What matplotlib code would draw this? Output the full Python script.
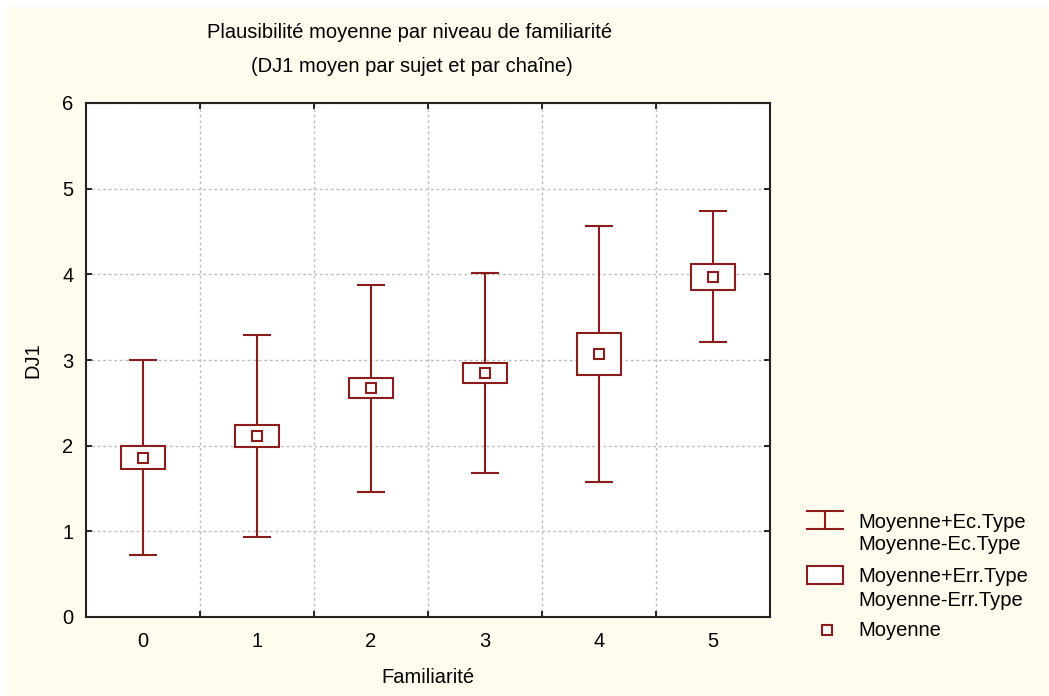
import numpy as np
import matplotlib
matplotlib.use("Agg")
import matplotlib.pyplot as plt
from matplotlib.patches import Rectangle
from matplotlib.lines import Line2D

# Données (DJ1 par niveau de familiarité)
niveaux = [0, 1, 2, 3, 4, 5]
moyennes = [1.86, 2.11, 2.67, 2.85, 3.07, 3.97]
ec_type = [1.14, 1.18, 1.21, 1.17, 1.49, 0.765]
err_type = [0.135, 0.13, 0.115, 0.115, 0.245, 0.155]

rouge = "#8b1c1c"
creme = "#fffcee"
taille = 14.5
plt.rcParams["font.family"] = ["Liberation Sans", "DejaVu Sans"]

fig = plt.figure(figsize=(10.49, 6.96), dpi=100, facecolor="white")
fig.patches.append(Rectangle((7 / 1049, 0), 1, 1 - 7 / 696, transform=fig.transFigure,
                             facecolor=creme, edgecolor="none", zorder=-10))

ax = fig.add_axes([86 / 1049, 1 - 617 / 696, 684 / 1049, 514 / 696])
ax.set_facecolor("white")

x = np.array(niveaux)
m = np.array(moyennes)
sd = np.array(ec_type)
se = np.array(err_type)

ax.errorbar(x, m, yerr=sd, fmt="none", ecolor=rouge, elinewidth=1.5,
            capsize=10, capthick=1.5, zorder=2)
ax.bar(x, 2 * se, bottom=m - se, width=0.385, facecolor="white",
       edgecolor=rouge, linewidth=1.5, zorder=3)
ax.plot(x, m, "s", mfc="white", mec=rouge, mew=1.5, ms=7, zorder=4)

ax.set_xlim(-0.5, 5.5)
ax.set_ylim(0, 6)
ax.set_xticks(x)
ax.set_xticklabels([str(v) for v in niveaux])
ax.set_xticks(x[:-1] + 0.5, minor=True)
ax.set_yticks(range(7))

ax.tick_params(axis="x", which="major", length=0, pad=11, labelsize=taille)
ax.tick_params(axis="x", which="minor", direction="in", length=4, width=1.2,
               top=True, bottom=True)
ax.tick_params(axis="y", which="major", direction="in", length=4, width=1.2,
               left=True, right=True, pad=9, labelsize=taille)

ax.grid(True, axis="y", which="major", color="#bdbdbd", linestyle=(0, (2, 2)), lw=1)
ax.grid(True, axis="x", which="minor", color="#bdbdbd", linestyle=(0, (2, 2)), lw=1)
ax.set_axisbelow(True)
for s in ax.spines.values():
    s.set_linewidth(1.5)
    s.set_color("#222222")

ax.set_xlabel("Familiarité", fontsize=taille, labelpad=12)
ax.set_ylabel("DJ1", fontsize=taille, labelpad=14)

fig.text(410 / 1049, 1 - 32 / 696, "Plausibilité moyenne par niveau de familiarité",
         ha="center", va="center", fontsize=taille)
fig.text(412 / 1049, 1 - 66 / 696, "(DJ1 moyen par sujet et par chaîne)",
         ha="center", va="center", fontsize=taille)

# Légende dessinée à la main (à droite du graphique)
def fx(px):
    return px / 1049

def fy(py):
    return 1 - py / 696

lw = 1.5
for yy in (511, 529):
    fig.add_artist(Line2D([fx(807), fx(843)], [fy(yy), fy(yy)], color=rouge, lw=lw))
fig.add_artist(Line2D([fx(825), fx(825)], [fy(511), fy(529)], color=rouge, lw=lw))
fig.add_artist(Rectangle((fx(807), fy(584)), fx(36), 18 / 696, transform=fig.transFigure,
                         facecolor="white", edgecolor=rouge, lw=lw))
fig.add_artist(Rectangle((fx(822), fy(635)), fx(10), 10 / 696, transform=fig.transFigure,
                         facecolor="white", edgecolor=rouge, lw=lw))

textes = [(522, "Moyenne+Ec.Type"), (545, "Moyenne-Ec.Type"),
          (577, "Moyenne+Err.Type"), (600, "Moyenne-Err.Type"),
          (630, "Moyenne")]
for yy, t in textes:
    fig.text(fx(858), fy(yy), t, ha="left", va="center", fontsize=taille)

fig.savefig("out.png", dpi=100, facecolor=fig.get_facecolor())
